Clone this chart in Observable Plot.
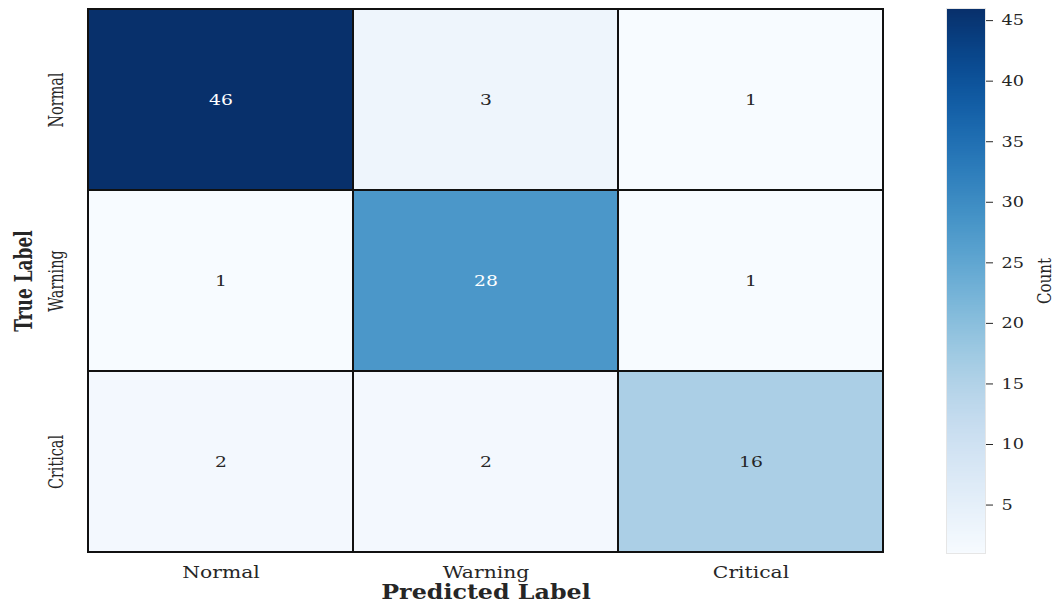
<!DOCTYPE html>
<html><head><meta charset="utf-8">
<script src="https://cdn.jsdelivr.net/npm/d3@7"></script>
<script src="https://cdn.jsdelivr.net/npm/@observablehq/plot@0.6"></script>
<style>
html,body{margin:0;padding:0;background:#fff;}
#wrap{position:relative;width:1056px;height:605px;overflow:hidden;}
#wrap svg{position:absolute;top:0;}
</style></head><body><div id="wrap"></div>
<script>
const predictedLabels = ["Normal", "Warning", "Critical"];
const trueLabels = ["Normal", "Warning", "Critical"];
const countsTrueNormal = [46, 3, 1];
const countsTrueWarning = [1, 28, 1];
const countsTrueCritical = [2, 2, 16];
const colorbarTicks = [5, 10, 15, 20, 25, 30, 35, 40, 45];
const colorDomain = [1, 46];

const rows = [countsTrueNormal, countsTrueWarning, countsTrueCritical];
const cells = trueLabels.flatMap((t, i) => predictedLabels.map((p, j) => ({trueLabel: t, predicted: p, count: rows[i][j]})));

const serif = "'DejaVu Serif', serif";
const ink = "#262626";
const color = {type: "linear", scheme: "blues", domain: colorDomain};

const heat = Plot.plot({
  width: 930, height: 605,
  marginLeft: 87, marginRight: 46, marginTop: 8, marginBottom: 52,
  style: {fontFamily: serif, fontSize: "15px", color: ink, background: "transparent"},
  x: {domain: predictedLabels, padding: 0, axis: null},
  y: {domain: trueLabels, padding: 0, axis: null},
  color,
  marks: [
    Plot.cell(cells, {x: "predicted", y: "trueLabel", fill: "count", stroke: "#111", strokeWidth: 2}),
    Plot.text(cells, {x: "predicted", y: "trueLabel", text: d => String(d.count), fill: d => d.count > 23 ? "white" : ink, fontSize: 15, className: "s-125"}),
    Plot.text(predictedLabels, {x: d => d, frameAnchor: "bottom", lineAnchor: "middle", dy: 19, fontSize: 16.5, fill: ink, className: "s-123"}),
    Plot.text(trueLabels, {y: d => d, frameAnchor: "left", textAnchor: "middle", lineAnchor: "middle", dx: -31, rotate: -90, fontSize: 20, fill: ink, className: "s-72"}),
    Plot.text(["Predicted Label"], {frameAnchor: "bottom", lineAnchor: "middle", dy: 38.5, fontSize: 20.5, fontWeight: "bold", fill: ink, className: "s-116"}),
    Plot.text(["True Label"], {frameAnchor: "left", textAnchor: "middle", lineAnchor: "middle", dx: -64, rotate: -90, fontSize: 25, fontWeight: "bold", fill: ink, className: "s-68"})
  ]
});
heat.style.left = "0px";

const bar = Plot.plot({
  width: 156, height: 605,
  marginLeft: 46, marginRight: 71, marginTop: 8, marginBottom: 52,
  style: {fontFamily: serif, fontSize: "15px", color: ink, background: "transparent"},
  x: {domain: [0, 1], axis: null},
  y: {domain: colorDomain, axis: null},
  color,
  marks: [
    Plot.raster({x1: 0, x2: 1, y1: colorDomain[0], y2: colorDomain[1], width: 1, height: 300, fill: (x, y) => y}),
    Plot.frame({stroke: "#e6e6e6", strokeWidth: 1}),
    Plot.axisY({anchor: "right", ticks: colorbarTicks, tickSize: 7, tickPadding: 9, label: null, fontSize: 15, tickFormat: d => String(d), className: "s-118"}),
    Plot.text(["Count"], {frameAnchor: "right", textAnchor: "middle", lineAnchor: "middle", dx: 60, rotate: -90, fontSize: 18, fill: ink, className: "s-84"})
  ]
});
bar.style.left = "900px";

const wrap = document.getElementById("wrap");
wrap.append(heat, bar);

function stretch(svg) {
  svg.querySelectorAll("g[aria-label]").forEach(g => {
    const cls = (g.getAttribute("class") || "").split(/\s+/).find(c => /^s-\d+$/.test(c));
    if (!cls) return;
    const r = +cls.split("-")[1] / 100;
    g.querySelectorAll("text").forEach(t => {
      let tr = t.getAttribute("transform");
      if (!tr) {
        const x = +(t.getAttribute("x") || 0), y = +(t.getAttribute("y") || 0);
        t.removeAttribute("x"); t.removeAttribute("y");
        tr = `translate(${x},${y})`;
      }
      t.setAttribute("transform", `${tr} scale(${r},1)`);
    });
  });
}
stretch(heat);
stretch(bar);
</script></body></html>
